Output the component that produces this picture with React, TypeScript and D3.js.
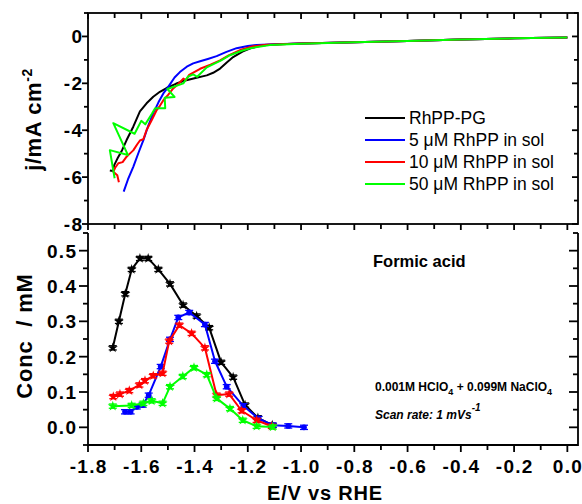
import React from "react";
import * as d3 from "d3";

// ---------- DATA ----------
// Top panel: linear sweep voltammograms [E (V vs RHE), j (mA cm-2)]
const lsvRhPPPG: [number, number][] = [
  [-1.718, -5.72], [-1.706, -5.74], [-1.702, -5.5], [-1.69, -5.22], [-1.672, -4.85], [-1.655, -4.42],
  [-1.63, -3.85], [-1.605, -3.2], [-1.58, -2.85], [-1.555, -2.57], [-1.53, -2.36], [-1.505, -2.2],
  [-1.47, -2.02], [-1.442, -1.9], [-1.4, -1.78], [-1.354, -1.66], [-1.33, -1.55], [-1.304, -1.37],
  [-1.28, -1.12], [-1.255, -0.88], [-1.22, -0.65], [-1.19, -0.51], [-1.16, -0.42], [-1.13, -0.37],
  [-1.08, -0.33], [-1.0, -0.3], [-0.8, -0.25], [-0.6, -0.19], [-0.4, -0.13], [-0.2, -0.08], [0.0, -0.04],
];
const lsv5uM: [number, number][] = [
  [-1.666, -6.62], [-1.65, -6.1], [-1.63, -5.56], [-1.61, -4.95], [-1.592, -4.42], [-1.575, -3.85],
  [-1.555, -3.28], [-1.535, -2.8], [-1.517, -2.43], [-1.498, -2.14], [-1.475, -1.75], [-1.455, -1.52],
  [-1.429, -1.29], [-1.405, -1.15], [-1.379, -1.06], [-1.35, -0.96], [-1.317, -0.84], [-1.28, -0.66],
  [-1.242, -0.5], [-1.2, -0.41], [-1.167, -0.36], [-1.1, -0.33], [-1.0, -0.3], [-0.8, -0.25],
  [-0.6, -0.19], [-0.4, -0.13], [-0.2, -0.08], [0.0, -0.04],
];
const lsv10uM: [number, number][] = [
  [-1.684, -6.22], [-1.69, -5.92], [-1.705, -5.77], [-1.698, -5.6], [-1.686, -5.41], [-1.67, -5.36],
  [-1.655, -5.13], [-1.645, -5.02], [-1.63, -4.86], [-1.615, -4.6], [-1.605, -4.44], [-1.592, -4.38],
  [-1.58, -3.99], [-1.56, -3.55], [-1.542, -3.14], [-1.53, -2.96], [-1.517, -2.72], [-1.5, -2.5],
  [-1.48, -2.22], [-1.46, -2.02], [-1.442, -1.8], [-1.432, -1.86], [-1.42, -1.64], [-1.379, -1.38],
  [-1.34, -1.2], [-1.304, -1.02], [-1.27, -0.8], [-1.229, -0.58], [-1.18, -0.42], [-1.13, -0.35],
  [-1.0, -0.3], [-0.8, -0.25], [-0.6, -0.19], [-0.4, -0.13], [-0.2, -0.08], [0.0, -0.04],
];
const lsv50uM: [number, number][] = [
  [-1.7, -6.05], [-1.718, -4.85], [-1.65, -5.06], [-1.705, -3.7], [-1.625, -4.15], [-1.6, -3.6],
  [-1.585, -3.75], [-1.56, -3.3], [-1.548, -3.06], [-1.51, -3.06], [-1.512, -2.62], [-1.475, -2.58],
  [-1.502, -2.24], [-1.442, -2.0], [-1.425, -1.72], [-1.405, -1.62], [-1.39, -1.72], [-1.354, -1.32],
  [-1.3, -1.02], [-1.267, -0.8], [-1.22, -0.6], [-1.19, -0.5], [-1.117, -0.37], [-1.0, -0.31],
  [-0.8, -0.25], [-0.6, -0.19], [-0.4, -0.13], [-0.2, -0.08], [0.0, -0.04],
];

// Bottom panel: formic acid concentration [E (V vs RHE), conc (mM)]
const faRhPPPG: [number, number][] = [
  [-1.707, 0.225], [-1.684, 0.3], [-1.66, 0.378], [-1.636, 0.447], [-1.605, 0.478], [-1.574, 0.478],
  [-1.536, 0.447], [-1.492, 0.406], [-1.443, 0.346], [-1.392, 0.315], [-1.345, 0.282], [-1.3, 0.184],
  [-1.255, 0.142], [-1.21, 0.063], [-1.162, 0.027], [-1.108, 0.006],
];
const fa5uM: [number, number][] = [
  [-1.661, 0.044], [-1.64, 0.044], [-1.617, 0.058], [-1.595, 0.063], [-1.572, 0.091], [-1.527, 0.172],
  [-1.492, 0.249], [-1.461, 0.311], [-1.42, 0.325], [-1.361, 0.291], [-1.323, 0.187], [-1.279, 0.115],
  [-1.217, 0.061], [-1.16, 0.025], [-1.106, 0.006], [-1.048, 0.004], [-0.989, 0.0],
];
const fa10uM: [number, number][] = [
  [-1.705, 0.087], [-1.68, 0.094], [-1.645, 0.104], [-1.607, 0.12], [-1.586, 0.132], [-1.555, 0.146],
  [-1.52, 0.153], [-1.495, 0.244], [-1.457, 0.289], [-1.411, 0.266], [-1.361, 0.225], [-1.317, 0.091],
  [-1.27, 0.094], [-1.223, 0.047], [-1.167, 0.02], [-1.11, 0.003],
];
const fa50uM: [number, number][] = [
  [-1.707, 0.06], [-1.636, 0.062], [-1.592, 0.068], [-1.561, 0.075], [-1.52, 0.068], [-1.492, 0.115],
  [-1.444, 0.144], [-1.402, 0.169], [-1.354, 0.149], [-1.317, 0.082], [-1.267, 0.053], [-1.219, 0.02],
  [-1.167, 0.003], [-1.106, 0.001],
];
const faError = 0.006;

const seriesNames = ["RhPP-PG", "5 \u03bcM RhPP in sol", "10 \u03bcM RhPP in sol", "50 \u03bcM RhPP in sol"];
const seriesColors = ["#000000", "#0000ff", "#ff0000", "#00ff00"];

const xMajorTicks = [-1.8, -1.6, -1.4, -1.2, -1.0, -0.8, -0.6, -0.4, -0.2, 0.0];
const xMinorTicks = [-1.7, -1.5, -1.3, -1.1, -0.9, -0.7, -0.5, -0.3, -0.1];
const xTickLabels = ["-1.8", "-1.6", "-1.4", "-1.2", "-1.0", "-0.8", "-0.6", "-0.4", "-0.2", "0.0"];
const yTopMajor = [0, -2, -4, -6, -8];
const yTopMinor = [1, -1, -3, -5, -7];
const yTopLabels = ["0", "-2", "-4", "-6", "-8"];
const yBotMajor = [0.0, 0.1, 0.2, 0.3, 0.4, 0.5];
const yBotMinor = [-0.05, 0.05, 0.15, 0.25, 0.35, 0.45, 0.55];
const yBotLabels = ["0.0", "0.1", "0.2", "0.3", "0.4", "0.5"];

// ---------- LAYOUT ----------
const W = 582;
const H = 504;
const L = 88;
const R = 578;
const topY0 = 13;
const topY1 = 224;
const botY0 = 233;
const botY1 = 445;
const FONT = "'Liberation Sans', Arial, Helvetica, sans-serif";
const LS = 1.3;

export default function App() {
  const x = d3.scaleLinear().domain([-1.8, 0.04]).range([L, R]);
  const yT = d3.scaleLinear().domain([-8, 1]).range([topY1, topY0]);
  const yB = d3.scaleLinear().domain([-0.05, 0.55]).range([botY1, botY0]);

  const lineT = d3.line<[number, number]>().x((d) => x(d[0])).y((d) => yT(d[1]));
  const lineB = d3.line<[number, number]>().x((d) => x(d[0])).y((d) => yB(d[1]));

  const lsvs = [lsvRhPPPG, lsv5uM, lsv10uM, lsv50uM];
  const fas = [faRhPPPG, fa5uM, fa10uM, fa50uM];
  const symbols = [d3.symbolStar, d3.symbolCircle, d3.symbolStar, d3.symbolStar];

  const sw = 1.8;

  const xTickLines = (yPos: number, dir: number, maj: number, min: number, key: string) => (
    <g key={key}>
      {xMajorTicks.map((v) => (
        <line key={"M" + v} x1={x(v)} x2={x(v)} y1={yPos} y2={yPos + dir * maj} stroke="#000" strokeWidth={sw} />
      ))}
      {xMinorTicks.map((v) => (
        <line key={"m" + v} x1={x(v)} x2={x(v)} y1={yPos} y2={yPos + dir * min} stroke="#000" strokeWidth={sw} />
      ))}
    </g>
  );

  const yTickLines = (scale: any, major: number[], minor: number[], xPos: number, dir: number, maj: number, min: number, key: string) => (
    <g key={key}>
      {major.map((v) => (
        <line key={"M" + v} x1={xPos} x2={xPos + dir * maj} y1={scale(v)} y2={scale(v)} stroke="#000" strokeWidth={sw} />
      ))}
      {minor.map((v) => (
        <line key={"m" + v} x1={xPos} x2={xPos + dir * min} y1={scale(v)} y2={scale(v)} stroke="#000" strokeWidth={sw} />
      ))}
    </g>
  );

  return (
    <svg
      width={W}
      height={H}
      viewBox={`0 0 ${W} ${H}`}
      style={{ position: "absolute", left: 0, top: 0, background: "#fff" }}
      fontFamily={FONT}
    >
      <rect x={0} y={0} width={W} height={H} fill="#fff" />
      <defs>
        <clipPath id="clipTop">
          <rect x={L} y={topY0} width={R - L} height={topY1 - topY0} />
        </clipPath>
        <clipPath id="clipBot">
          <rect x={L} y={botY0 - 5} width={R - L} height={botY1 - botY0 + 5} />
        </clipPath>
      </defs>

      {/* ---------- TOP PANEL ---------- */}
      <g clipPath="url(#clipTop)">
        {lsvs.map((d, i) => (
          <path key={i} d={lineT(d) || ""} fill="none" stroke={seriesColors[i]} strokeWidth={2} strokeLinejoin="round" />
        ))}
      </g>
      <rect x={L} y={topY0} width={R - L} height={topY1 - topY0} fill="none" stroke="#000" strokeWidth={sw} />
      {xTickLines(topY1, 1, 6, 5, "tb")}
      {xTickLines(topY0, 1, 6, 5, "tt")}
      {yTickLines(yT, yTopMajor, yTopMinor, L, -1, 6, 4, "tl")}
      {yTickLines(yT, yTopMajor, yTopMinor, R, -1, 6, 4, "tr")}
      {yTopMajor.map((v, i) => (
        <text key={v} x={L - 6 + LS} y={yT(v)} dy="0.36em" textAnchor="end" fontSize={19} fontWeight="bold" letterSpacing={LS}>
          {yTopLabels[i]}
        </text>
      ))}
      <text
        transform={`translate(41, ${(topY0 + topY1) / 2 + 1}) rotate(-90)`}
        textAnchor="middle"
        fontSize={22}
        fontWeight="bold"
        letterSpacing={0.6}
      >
        j/mA cm<tspan dy={-9} fontSize={14}>-2</tspan>
      </text>

      {/* legend */}
      {seriesNames.map((name, i) => {
        const ly = 118 + i * 22;
        return (
          <g key={name}>
            <line x1={365} x2={405} y1={ly} y2={ly} stroke={seriesColors[i]} strokeWidth={2} />
            <text x={409} y={ly} dy="0.36em" fontSize={17.5}>
              {name}
            </text>
          </g>
        );
      })}

      {/* ---------- BOTTOM PANEL ---------- */}
      <g clipPath="url(#clipBot)">
        {fas.map((d, i) => (
          <g key={i}>
            <path d={lineB(d) || ""} fill="none" stroke={seriesColors[i]} strokeWidth={2} strokeLinejoin="round" />
            {d.map((p, j) => {
              const cx = x(p[0]);
              const cy = yB(p[1]);
              const yh = yB(p[1] + faError);
              const yl = yB(p[1] - faError);
              const sym = d3.symbol().type(symbols[i]).size(i === 1 ? 26 : 32)();
              return (
                <g key={j}>
                  <line x1={cx} x2={cx} y1={yh} y2={yl} stroke={seriesColors[i]} strokeWidth={1.2} />
                  <line x1={cx - 4} x2={cx + 4} y1={yh} y2={yh} stroke={seriesColors[i]} strokeWidth={1.3} />
                  <line x1={cx - 4} x2={cx + 4} y1={yl} y2={yl} stroke={seriesColors[i]} strokeWidth={1.3} />
                  <path d={sym || ""} transform={`translate(${cx},${cy})`} fill={seriesColors[i]} />
                </g>
              );
            })}
          </g>
        ))}
      </g>
      <path d={`M${L},${botY0}V${botY1}H${R}V${botY0}`} fill="none" stroke="#000" strokeWidth={sw} />
      {xTickLines(botY1, 1, 7, 5, "bb")}
      {yTickLines(yB, yBotMajor, yBotMinor, L, -1, 9, 5, "bl")}
      {yTickLines(yB, yBotMajor, yBotMinor, R, -1, 9, 5, "br")}
      {yBotMajor.map((v, i) => (
        <text key={v} x={L - 12 + LS} y={yB(v)} dy="0.36em" textAnchor="end" fontSize={19} fontWeight="bold" letterSpacing={LS}>
          {yBotLabels[i]}
        </text>
      ))}
      {xMajorTicks.map((v, i) => (
        <text key={v} x={x(v) + LS / 2} y={473} textAnchor="middle" fontSize={19} fontWeight="bold" letterSpacing={LS}>
          {xTickLabels[i]}
        </text>
      ))}
      <text x={(L + R) / 2 - 8} y={500} textAnchor="middle" fontSize={20} fontWeight="bold" letterSpacing={0.8}>
        E/V vs RHE
      </text>
      <text
        transform={`translate(32, ${(botY0 + botY1) / 2 - 3}) rotate(-90)`}
        textAnchor="middle"
        fontSize={22}
        fontWeight="bold"
        letterSpacing={0.8}
      >
        {"Conc \u00a0/ mM"}
      </text>

      <text x={373} y={267} fontSize={16.5} fontWeight="bold">
        Formic acid
      </text>
      <text x={375} y={391} fontSize={12} fontWeight="bold">
        0.001M HClO<tspan dy={4} fontSize={9}>4</tspan>
        <tspan dy={-4}> + 0.099M NaClO</tspan>
        <tspan dy={4} fontSize={9}>4</tspan>
      </text>
      <text x={375} y={419} fontSize={12} fontWeight="bold" fontStyle="italic">
        Scan rate: 1 mVs<tspan dy={-8} fontSize={10}>-1</tspan>
      </text>
    </svg>
  );
}
